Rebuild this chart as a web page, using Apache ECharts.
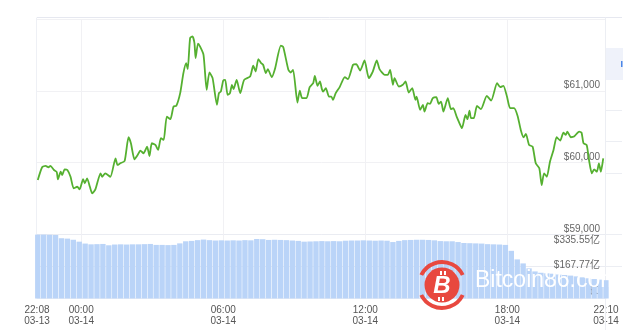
<!DOCTYPE html>
<html><head><meta charset="utf-8">
<script src="https://cdn.jsdelivr.net/npm/echarts@6/dist/echarts.min.js"></script>
<style>html,body{margin:0;padding:0;background:#fff}#c{width:636px;height:330px}</style>
</head><body><div id="c"></div>
<script>
// ---- data ----
const priceTimes = [
'03-13 22:10','03-13 22:21','03-13 22:30','03-13 22:37','03-13 22:42','03-13 22:51','03-13 22:58','03-13 23:01','03-13 23:08','03-13 23:12',
'03-13 23:18','03-13 23:25','03-13 23:33','03-13 23:41','03-13 23:50','03-13 23:56','03-14 00:05','03-14 00:09','03-14 00:15','03-14 00:22',
'03-14 00:28','03-14 00:36','03-14 00:49','03-14 00:53','03-14 01:01','03-14 01:14','03-14 01:27','03-14 01:32','03-14 01:39','03-14 01:50',
'03-14 02:00','03-14 02:06','03-14 02:15','03-14 02:23','03-14 02:30','03-14 02:38','03-14 02:47','03-14 02:53','03-14 02:59','03-14 03:08',
'03-14 03:15','03-14 03:22','03-14 03:29','03-14 03:37','03-14 03:46','03-14 03:54','03-14 04:01','03-14 04:11','03-14 04:19','03-14 04:26',
'03-14 04:30','03-14 04:36','03-14 04:42','03-14 04:47','03-14 04:50','03-14 04:56','03-14 05:01','03-14 05:10','03-14 05:18','03-14 05:25',
'03-14 05:33','03-14 05:44','03-14 05:49','03-14 05:54','03-14 06:00','03-14 06:05','03-14 06:11','03-14 06:17','03-14 06:22','03-14 06:26',
'03-14 06:34','03-14 06:43','03-14 06:53','03-14 07:08','03-14 07:16','03-14 07:22','03-14 07:29','03-14 07:36','03-14 07:41','03-14 07:48',
'03-14 07:53','03-14 08:03','03-14 08:11','03-14 08:26','03-14 08:32','03-14 08:45','03-14 08:51','03-14 08:57','03-14 09:08','03-14 09:14',
'03-14 09:20','03-14 09:31','03-14 09:39','03-14 09:48','03-14 09:52','03-14 09:59','03-14 10:05','03-14 10:10','03-14 10:13','03-14 10:20',
'03-14 10:28','03-14 10:34','03-14 10:38','03-14 10:45','03-14 10:55','03-14 11:08','03-14 11:16','03-14 11:29','03-14 11:37','03-14 11:47',
'03-14 11:58','03-14 12:09','03-14 12:19','03-14 12:29','03-14 12:36','03-14 12:49','03-14 12:57','03-14 13:03','03-14 13:10','03-14 13:14',
'03-14 13:25','03-14 13:35','03-14 13:42','03-14 13:50','03-14 13:59','03-14 14:07','03-14 14:10','03-14 14:19','03-14 14:26','03-14 14:30',
'03-14 14:38','03-14 14:44','03-14 14:51','03-14 15:00','03-14 15:06','03-14 15:12','03-14 15:18','03-14 15:29','03-14 15:37','03-14 15:43',
'03-14 15:52','03-14 15:58','03-14 16:05','03-14 16:14','03-14 16:19','03-14 16:24','03-14 16:28','03-14 16:35','03-14 16:43','03-14 16:53',
'03-14 17:08','03-14 17:19','03-14 17:34','03-14 17:42','03-14 17:50','03-14 17:59','03-14 18:07','03-14 18:17','03-14 18:26','03-14 18:34',
'03-14 18:41','03-14 18:47','03-14 18:55','03-14 19:04','03-14 19:12','03-14 19:21','03-14 19:27','03-14 19:33','03-14 19:40','03-14 19:48',
'03-14 19:57','03-14 20:05','03-14 20:14','03-14 20:22','03-14 20:28','03-14 20:32','03-14 20:41','03-14 20:49','03-14 21:02','03-14 21:08',
'03-14 21:13','03-14 21:21','03-14 21:27','03-14 21:34','03-14 21:40','03-14 21:47','03-14 21:52','03-14 21:57','03-14 22:03'
];
const prices = [
59758,59936,59954,59936,59954,59898,59870,59768,59874,59828,
59907,59898,59804,59643,59665,59628,59772,59712,59782,59665,
59573,59628,59852,59804,59852,59804,60061,59968,59991,60023,
60354,60270,60047,60107,60167,60131,60223,60093,60270,60247,
60177,60340,60316,60641,60605,60781,60791,60972,61247,61386,
61303,61735,61757,61665,61456,61656,61618,61502,61014,61255,
61177,60805,60968,60990,61144,61153,60944,60968,61084,61024,
61153,60968,61153,61199,61349,61269,61442,61386,61363,61247,
61303,61191,61303,61628,61610,61293,61255,61293,60837,61004,
60898,60898,61052,61107,61209,61070,61130,61024,60990,61038,
60920,60920,60874,60968,61052,61191,61163,61363,61372,61283,
61423,61177,61269,61423,61303,61223,61223,61293,61084,61177,
61060,61084,61130,60976,61038,60874,60920,60735,60805,60711,
60828,60819,60898,60912,60819,60851,60711,60898,60745,60759,
60633,60558,60480,60665,60605,60725,60619,60619,60791,60745,
60930,60865,61107,61052,61070,60920,60759,60759,60651,60456,
60354,60400,60247,60223,59991,59922,59689,59852,59804,60014,
60177,60354,60307,60418,60386,60432,60354,60363,60432,60418,
60270,60247,60037,59852,59907,59874,59991,59874,60061
];
// volume (亿 USD), one bar every 15 minutes starting 03-13 22:10
const volStart = '03-13 22:10';
const volStepMinutes = 15;
const volumes = [
335,335,334,333,316,314,308,298,288,284,
285,286,279,283,284,283,284,284,285,286,
281,281,280,281,289,300,302,306,309,306,
304,305,304,305,304,306,305,312,311,307,
308,307,306,304,302,298,299,300,301,300,
301,300,303,304,304,305,304,303,304,303,
296,302,306,307,308,308,307,305,301,300,
300,296,291,290,289,288,285,284,283,281,
250,205,184,158,142,135,132,130,126,123,
120,116,111,106,102,99,96
];
const xRange = ['03-13 22:08','03-14 22:10'];
const xTickLabels = ['03-13 22:08','03-14 00:00','03-14 06:00','03-14 12:00','03-14 18:00','03-14 22:10'];
const xGridTicks = ['03-14 00:00','03-14 06:00','03-14 12:00','03-14 18:00'];
const priceAxis = {min:59000, max:62000, interval:1000};
const volAxis = {min:0, max:335.55, interval:167.775};
const volTickLabels = ['$0','$167.77亿','$335.55亿'];

// ---- build ----
const ts = s => new Date('2021-' + s.replace(' ', 'T') + ':00').getTime();
const STEP = volStepMinutes * 60000;
const priceData = priceTimes.map((t,i)=>[ts(t), prices[i]]);
const volData = volumes.map((v,i)=>[ts(volStart) + i*STEP, v]);
const pad = n => (n<10?'0':'')+n;
const FONT = 'Liberation Sans, Arial, Noto Sans CJK SC, sans-serif';
const gridColor = '#f1f1f4';
const RED = '#e8483f';

const chart = echarts.init(document.getElementById('c'), null, {renderer:'canvas'});
chart.setOption({
  animation:false,
  backgroundColor:'#fff',
  grid:[
    {left:37, right:30, top:19, bottom:95.5},
    {left:37, right:30, top:234.5, bottom:31.5}
  ],
  xAxis:[
    {type:'value', gridIndex:0, min:ts(xRange[0]), max:ts(xRange[1]), scale:true,
     axisLine:{show:false}, axisTick:{show:false, customValues:xGridTicks.map(ts)},
     axisLabel:{show:false, customValues:xGridTicks.map(ts)},
     splitLine:{show:true, lineStyle:{color:gridColor, width:1}}},
    {type:'value', gridIndex:1, min:ts(xRange[0]), max:ts(xRange[1]), scale:true,
     axisLine:{show:true, lineStyle:{color:'#eceef3'}}, axisTick:{show:false, customValues:xGridTicks.map(ts)},
     splitLine:{show:true, lineStyle:{color:gridColor, width:1}},
     axisLabel:{show:true, customValues:xTickLabels.map(ts), hideOverlap:false,
       color:'#555', fontSize:10, fontFamily:FONT, lineHeight:11, margin:6,
       formatter:v=>{const d=new Date(v); return pad(d.getHours())+':'+pad(d.getMinutes())+'\n'+pad(d.getMonth()+1)+'-'+pad(d.getDate());}}}
  ],
  yAxis:[
    {type:'value', gridIndex:0, position:'right', min:priceAxis.min, max:priceAxis.max, interval:priceAxis.interval,
     axisLine:{show:false}, axisTick:{show:false},
     splitLine:{show:true, lineStyle:{color:gridColor}},
     axisLabel:{inside:true, margin:6, color:'#666', fontSize:10, fontFamily:FONT, verticalAlign:'bottom', lineHeight:11,
       showMaxLabel:false,
       formatter:v=> v>=62000?'':'$'+v.toLocaleString('en-US')}},
    {type:'value', gridIndex:1, position:'right', min:volAxis.min, max:volAxis.max, interval:volAxis.interval,
     axisLine:{show:false}, axisTick:{show:false},
     splitLine:{show:true, lineStyle:{color:'#eaecf2'}},
     axisLabel:{inside:true, margin:6, color:'#666', fontSize:10, fontFamily:FONT,
       formatter:v=>{const i=Math.round(v/volAxis.interval); const k=['b','m','t'][i]; return '{'+k+'|'+volTickLabels[i]+'}';},
       rich:{
         t:{fontSize:10, fontFamily:FONT, color:'#666', padding:[11,0,0,0]},
         m:{fontSize:10, fontFamily:FONT, color:'#666', padding:[0,0,3,0]},
         b:{fontSize:10, fontFamily:FONT, color:'#666', padding:[0,0,15,0]}
       }}}
  ],
  series:[
    {type:'bar', xAxisIndex:1, yAxisIndex:1, data:volData, barWidth:5.4, itemStyle:{color:'#bad4f8'}, z:2},
    {type:'line', xAxisIndex:0, yAxisIndex:0, data:priceData, showSymbol:false, smooth:0.2,
     lineStyle:{color:'#55b030', width:1.8}, z:3}
  ],
  graphic:[
    {type:'line', shape:{x1:37, y1:17.5, x2:622, y2:17.5}, style:{stroke:'#e6e8f0', lineWidth:1}, z:1},
    {type:'line', shape:{x1:36.5, y1:17.5, x2:36.5, y2:298}, style:{stroke:'#eef0f5', lineWidth:1}, z:1},
    {type:'line', shape:{x1:605.5, y1:17.5, x2:605.5, y2:330}, style:{stroke:'#eceef3', lineWidth:1}, z:1},
    {type:'rect', shape:{x:606, y:48, width:17, height:32}, style:{fill:'#eff2fa'}, z:1},
    {type:'rect', shape:{x:621, y:61, width:1.5, height:6}, style:{fill:'#4a86e8'}, z:1},
    {type:'line', shape:{x1:606, y1:110.5, x2:622, y2:110.5}, style:{stroke:'#eceef3', lineWidth:1}, z:1},
    {type:'line', shape:{x1:606, y1:141.5, x2:622, y2:141.5}, style:{stroke:'#eceef3', lineWidth:1}, z:1},
    {type:'line', shape:{x1:606, y1:173.5, x2:622, y2:173.5}, style:{stroke:'#eceef3', lineWidth:1}, z:1},
    {type:'line', shape:{x1:606, y1:234.5, x2:622, y2:234.5}, style:{stroke:'#eceef3', lineWidth:1}, z:1},
    {type:'line', shape:{x1:606, y1:266.5, x2:622, y2:266.5}, style:{stroke:'#eceef3', lineWidth:1}, z:1},
    {type:'arc', z:100, shape:{cx:442, cy:285, r:23, startAngle:Math.PI+0.45, endAngle:2*Math.PI-0.45, clockwise:true}, style:{stroke:RED, lineWidth:4, fill:null}},
    {type:'arc', z:100, shape:{cx:442, cy:285, r:23, startAngle:0.45, endAngle:Math.PI-0.45, clockwise:true}, style:{stroke:RED, lineWidth:4, fill:null}},
    {type:'circle', z:100, shape:{cx:442, cy:285, r:17.5}, style:{fill:RED}},
    {type:'text', z:101, x:442, y:286, style:{text:'B', fill:'#fff', font:'italic bold 24px Liberation Sans, Arial', align:'center', verticalAlign:'middle'}},
    {type:'rect', z:101, shape:{x:440, y:271, width:2, height:4}, style:{fill:'#fff'}},
    {type:'rect', z:101, shape:{x:444, y:271, width:2, height:4}, style:{fill:'#fff'}},
    {type:'rect', z:101, shape:{x:438, y:297, width:2, height:4}, style:{fill:'#fff'}},
    {type:'rect', z:101, shape:{x:442, y:297, width:2, height:4}, style:{fill:'#fff'}},
    {type:'text', z:100, x:475, y:281, style:{text:'Bitcoin86.com', fill:'#fff', font:'23px Liberation Sans, Arial', align:'left', verticalAlign:'middle'}}
  ]
});
</script></body></html>
